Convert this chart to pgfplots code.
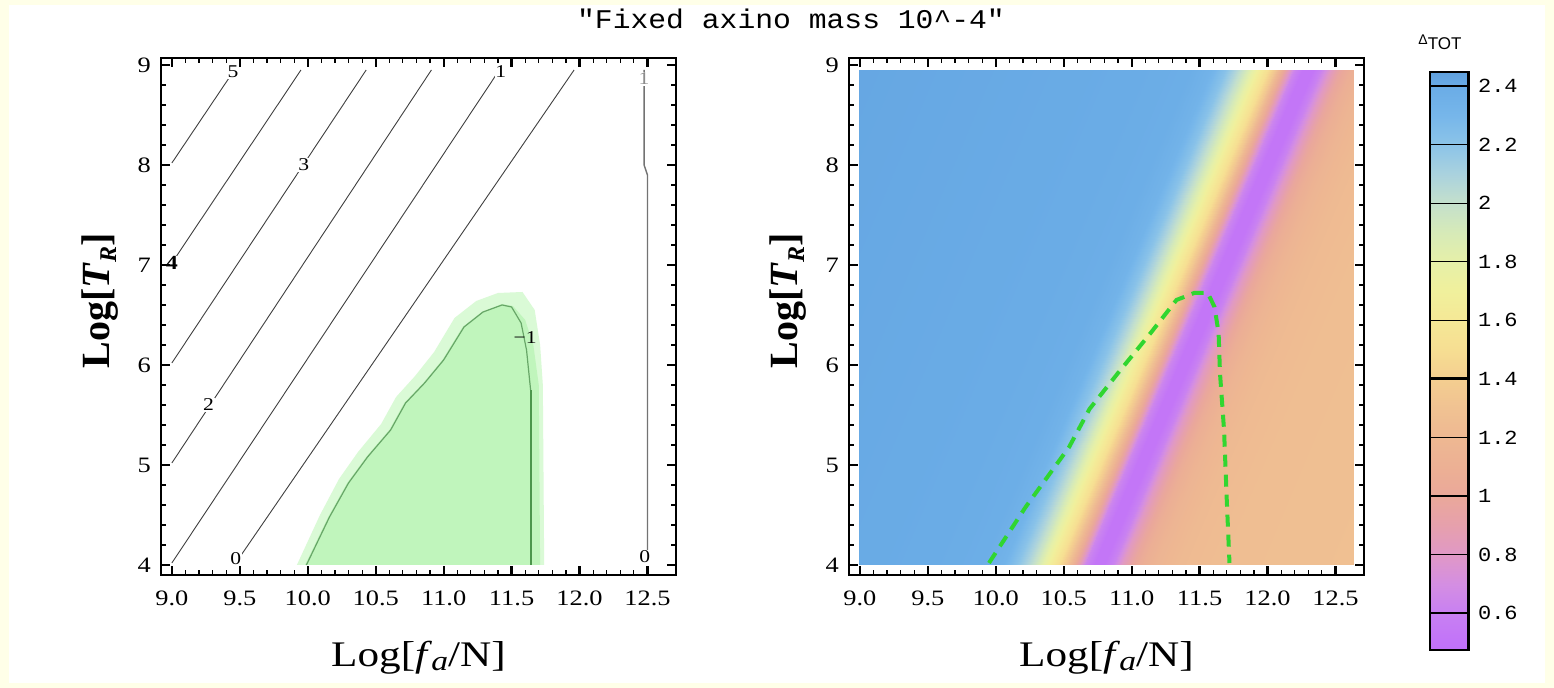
\documentclass[border=0pt]{standalone}
\usepackage{fontspec}
\setmainfont[FakeStretch=1.2]{Liberation Serif}
\newfontfamily\ylabfont{Liberation Serif}
\newfontfamily\ttitle[FakeStretch=1.1]{Liberation Mono}
\newfontfamily\cbfont[FakeStretch=1.1]{Liberation Mono}
\newfontfamily\sansf{Liberation Sans}
\usepackage{graphicx}
\usepackage{pgfplots}
\pgfplotsset{compat=1.18}
\definecolor{ivory}{RGB}{255,255,232}
\definecolor{lgreen}{RGB}{192,245,188}
\definecolor{hgreen}{RGB}{218,250,214}
\definecolor{dgreenline}{RGB}{76,150,76}
\definecolor{dashgreen}{RGB}{48,214,48}

\tikzset{clab/.style={font=\fontsize{9}{10}\selectfont, fill=white, inner sep=0.4pt}}

\pgfplotsset{
  dtotmap/.style={
    colormap={dtot}{
      rgb255(47.4pt)=(192,112,250);
      rgb255(60pt)=(200,128,242);
      rgb255(70pt)=(212,142,226);
      rgb255(80pt)=(224,152,198);
      rgb255(90pt)=(230,160,172);
      rgb255(100pt)=(234,168,154);
      rgb255(110pt)=(236,176,148);
      rgb255(120pt)=(238,184,146);
      rgb255(130pt)=(240,194,146);
      rgb255(140pt)=(244,206,144);
      rgb255(150pt)=(246,222,146);
      rgb255(160pt)=(245,232,150);
      rgb255(170pt)=(240,240,156);
      rgb255(180pt)=(230,240,168);
      rgb255(190pt)=(214,234,184);
      rgb255(200pt)=(196,224,204);
      rgb255(210pt)=(170,210,222);
      rgb255(220pt)=(140,196,232);
      rgb255(230pt)=(118,182,234);
      rgb255(240pt)=(106,172,230);
      rgb255(244.8pt)=(96,160,222)
    },
    point meta min=0.474, point meta max=2.448,
  },
  mframe/.style={
    scale only axis, width=257.5pt, height=258.5pt,
    anchor=south west,
    xmin=8.92, xmax=12.71, ymin=3.9, ymax=9.07,
    xtick={9,9.5,10,10.5,11,11.5,12,12.5},
    xticklabels={9.0,9.5,10.0,10.5,11.0,11.5,12.0,12.5},
    ytick={4,5,6,7,8,9}, yticklabels={4,5,6,7,8,9},
    minor x tick num=4, minor y tick num=4,
    tick align=inside,
    major tick length=4.5pt, minor tick length=2.5pt,
    every major tick/.append style={line width=1.1pt, black},
    every minor tick/.append style={line width=0.6pt, black},
    axis line style={line width=1pt},
    tick label style={font=\fontsize{11}{13}\selectfont},
    xticklabel style={yshift=-4.5pt},
    yticklabel style={xshift=-1.5pt},
    axis on top,
    xlabel={Log[\textit{f}\kern-0.02em\raisebox{-0.25ex}{\fontsize{14}{14}\selectfont\textit{a}}/N]},
    ylabel={\ylabfont\bfseries Log[\textit{T}\raisebox{-0.35ex}{\fontsize{12}{12}\selectfont\textit{R}}]},
    xlabel style={at={(axis description cs:0.5,-0.16)}, anchor=center, font=\fontsize{18}{20}\selectfont},
    ylabel style={at={(axis description cs:-0.118,0.53)}, anchor=center, font=\fontsize{20}{22}\selectfont},
  },
}

\begin{document}
\begin{tikzpicture}
\fill[ivory] (0,0) rectangle (777pt,344pt);
\fill[white] (4.5pt,2.5pt) rectangle (772.5pt,341.5pt);

\node[font=\ttitle\fontsize{13.5}{15}\selectfont] at (395.5pt,334.5pt) {"Fixed axino mass 10\textasciicircum-4"};

% ---------------- left panel ----------------
\begin{axis}[mframe, at={(80.5pt,56.5pt)}, axis background/.style={fill=white}]
  \addplot[fill=hgreen, draw=none] coordinates {
    (9.92,4.0) (10.09,4.5) (10.23,4.86) (10.37,5.13) (10.54,5.41) (10.65,5.68)
    (10.79,5.89) (10.93,6.13) (11.08,6.47) (11.24,6.64) (11.40,6.72) (11.58,6.73)
    (11.67,6.55) (11.71,6.20) (11.73,5.80) (11.74,4.0)
  } -- cycle;
  \addplot[fill=lgreen, draw=none] coordinates {
    (9.98,4.0) (10.15,4.48) (10.29,4.82) (10.43,5.08) (10.60,5.35) (10.71,5.62)
    (10.85,5.82) (10.99,6.05) (11.14,6.38) (11.28,6.53) (11.43,6.61) (11.51,6.59)
    (11.60,6.45) (11.66,6.20) (11.70,5.80) (11.71,4.0)
  } -- cycle;
  \addplot[no marks, color=dgreenline!85, line width=0.6pt] coordinates {
    (9.99,4.0) (10.16,4.48) (10.30,4.82) (10.44,5.08) (10.61,5.35) (10.72,5.62)
    (10.86,5.82) (11.00,6.05) (11.15,6.38) (11.29,6.53) (11.43,6.60) (11.50,6.58)
    (11.57,6.42) (11.61,6.15) (11.64,5.75)
  };
  \addplot[no marks, color=dgreenline, line width=1.1pt] coordinates {(11.64,5.75) (11.64,4.0)};
  % contour lines
  \addplot[no marks, black!75, line width=0.45pt] coordinates {(9.0,8.02) (9.46,8.95)};
  \addplot[no marks, black!75, line width=0.45pt] coordinates {(9.0,7.02) (9.95,8.95)};
  \addplot[no marks, black!75, line width=0.45pt] coordinates {(9.0,6.02) (10.43,8.95)};
  \addplot[no marks, black!75, line width=0.45pt] coordinates {(9.0,5.02) (10.91,8.95)};
  \addplot[no marks, black!75, line width=0.45pt] coordinates {(9.0,4.02) (11.41,8.95)};
  \addplot[no marks, black!75, line width=0.45pt] coordinates {(9.47,4.02) (11.96,8.95)};
  \addplot[no marks, black!55, line width=0.7pt] coordinates {(12.475,8.95) (12.475,8.0) (12.5,7.9) (12.5,4.02)};
  % contour labels
  \node[clab] at (axis cs:9.45,8.93) {5};
  \node[clab, font=\fontsize{10}{11}\selectfont\bfseries] at (axis cs:9.0,7.02) {4};
  \node[clab] at (axis cs:9.97,8.0) {3};
  \node[clab] at (axis cs:9.27,5.6) {2};
  \node[clab] at (axis cs:11.42,8.93) {1};
  \node[clab] at (axis cs:9.47,4.06) {0};
  \node[clab] at (axis cs:12.48,4.08) {0};
  \node[font=\fontsize{9}{10}\selectfont, inner sep=0pt] at (axis cs:11.6,6.27) {−1};
  \node[font=\fontsize{9}{10}\selectfont, text=black!45, fill=white, inner sep=0.3pt] at (axis cs:12.475,8.86) {1};
\end{axis}

% ---------------- right panel: density ----------------
\begin{axis}[dtotmap, at={(429.94pt,61.5pt)}, anchor=south west, scale only axis,
  width=246.6pt, height=247.5pt, xmin=9, xmax=12.63, ymin=4, ymax=8.95, hide axis]
  \addplot[surf, shader=interp, mesh/cols=24, point meta=\thisrow{d}] table {
x y d
7.40 4 2.42
9.50 4 2.40
9.90 4 2.38
10.05 4 2.33
10.15 4 2.22
10.22 4 2.10
10.28 4 1.98
10.34 4 1.82
10.40 4 1.66
10.46 4 1.52
10.51 4 1.36
10.56 4 1.14
10.61 4 0.88
10.66 4 0.64
10.72 4 0.52
10.80 4 0.52
10.86 4 0.62
10.93 4 0.82
11.00 4 0.97
11.08 4 1.08
11.18 4 1.16
11.35 4 1.22
11.70 4 1.26
12.70 4 1.28
8.935 8.95 2.42
11.035 8.95 2.40
11.435 8.95 2.38
11.585 8.95 2.33
11.685 8.95 2.22
11.755 8.95 2.10
11.815 8.95 1.98
11.875 8.95 1.82
11.935 8.95 1.66
11.995 8.95 1.52
12.045 8.95 1.36
12.095 8.95 1.14
12.145 8.95 0.88
12.195 8.95 0.64
12.255 8.95 0.52
12.335 8.95 0.52
12.395 8.95 0.62
12.465 8.95 0.82
12.535 8.95 0.97
12.615 8.95 1.08
12.715 8.95 1.16
12.885 8.95 1.22
13.235 8.95 1.26
14.235 8.95 1.28
  };
\end{axis}

% ---------------- right panel: frame ----------------
\begin{axis}[mframe, at={(424.5pt,56.5pt)}]
  \addplot[no marks, color=dashgreen, line width=2pt, dash pattern=on 6pt off 4pt] coordinates {
    (9.95,4.02) (10.22,4.58) (10.54,5.18) (10.69,5.56) (10.90,5.92) (11.14,6.32)
    (11.33,6.65) (11.46,6.72) (11.56,6.72) (11.61,6.58) (11.64,6.32) (11.65,5.92)
    (11.68,5.35) (11.70,4.65) (11.72,4.02)
  };
\end{axis}

% ---------------- colorbar ----------------
\begin{axis}[dtotmap, at={(715pt,19pt)}, anchor=south west, scale only axis,
  width=19.5pt, height=289pt, xmin=0, xmax=1, ymin=0.474, ymax=2.448,
  xtick=\empty,
  ytick={0.6,0.8,1,1.2,1.4,1.6,1.8,2,2.2,2.4},
  yticklabels={0.6,0.8,1,1.2,1.4,1.6,1.8,2,2.2,2.4},
  yticklabel pos=right, major tick length=0pt,
  ymajorgrids, grid style={black, line width=0.6pt},
  extra y ticks={1.4}, extra y tick labels={},
  extra y tick style={grid style={black, line width=1.5pt}},
  axis on top, axis line style={line width=1pt},
  tick label style={font=\cbfont\fontsize{10}{12}\selectfont},
  yticklabel style={xshift=1pt}]
  \addplot[surf, shader=interp, mesh/cols=2, point meta=\thisrow{y}] table {
x y
0 0.474
1 0.474
0 0.6
1 0.6
0 0.7
1 0.7
0 0.8
1 0.8
0 0.9
1 0.9
0 1.0
1 1.0
0 1.1
1 1.1
0 1.2
1 1.2
0 1.3
1 1.3
0 1.4
1 1.4
0 1.5
1 1.5
0 1.6
1 1.6
0 1.7
1 1.7
0 1.8
1 1.8
0 1.9
1 1.9
0 2.0
1 2.0
0 2.1
1 2.1
0 2.2
1 2.2
0 2.3
1 2.3
0 2.4
1 2.4
0 2.448
1 2.448
  };
  \addplot[no marks, black, line width=1.6pt] coordinates {(1,0.474) (1,2.448)};
\end{axis}

\node[font=\sansf, inner sep=0pt] at (720pt,323pt) {{\fontsize{7}{8}\selectfont Δ}\raisebox{-0.45ex}{\fontsize{8.5}{9}\selectfont TOT}};
\end{tikzpicture}
\end{document}
